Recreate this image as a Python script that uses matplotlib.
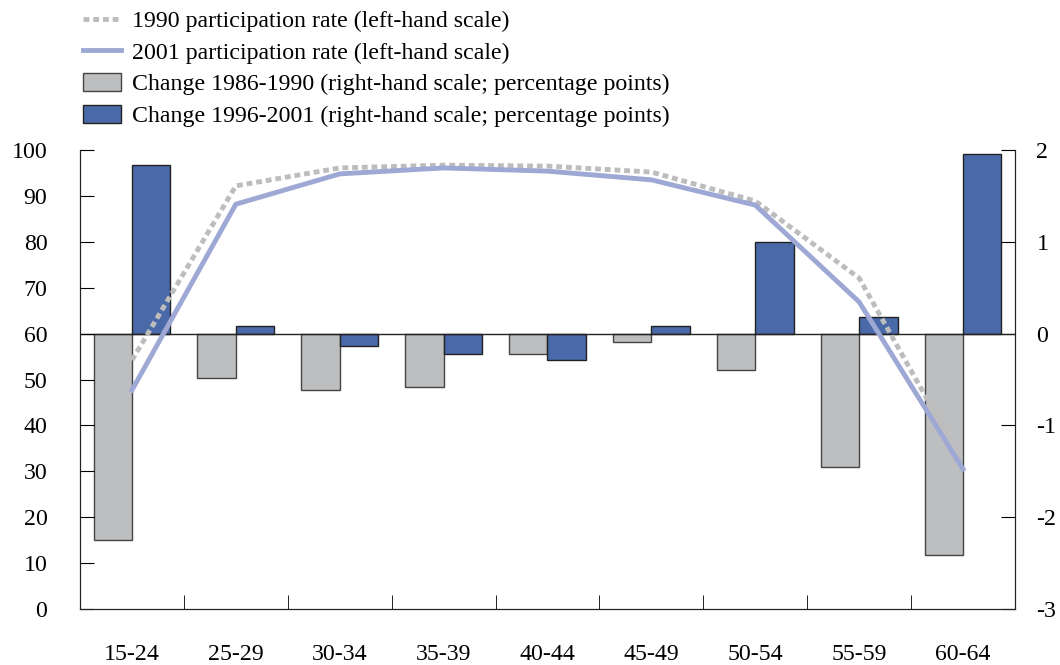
import numpy as np
import matplotlib.pyplot as plt
from matplotlib.ticker import FixedLocator

plt.rcParams['font.family'] = ['Liberation Serif', 'DejaVu Serif']
plt.rcParams['axes.unicode_minus'] = False

groups = ['15-24', '25-29', '30-34', '35-39', '40-44', '45-49', '50-54', '55-59', '60-64']
rate_1990 = [54.2, 92.2, 96.1, 96.7, 96.5, 95.2, 88.9, 72.1, 31.8]
rate_2001 = [47.7, 88.2, 94.8, 96.1, 95.4, 93.5, 88.0, 66.9, 30.5]
chg_86_90 = [-2.25, -0.48, -0.61, -0.58, -0.22, -0.09, -0.40, -1.45, -2.41]
chg_96_01 = [1.84, 0.08, -0.13, -0.22, -0.29, 0.08, 1.00, 0.18, 1.96]

x = np.arange(len(groups))
w = 0.37
fs = 17.2

fig = plt.figure(figsize=(10.6, 6.65), dpi=100)
ax = fig.add_axes([0.0755, 0.0842, 0.882, 0.6902])
ax2 = ax.twinx()

# bars on the right-hand scale
b1 = ax2.bar(x - w / 2, chg_86_90, w, color='#BDBEC0', edgecolor='#444444', linewidth=1.0,
             label='Change 1986-1990 (right-hand scale; percentage points)')
b2 = ax2.bar(x + w / 2, chg_96_01, w, color='#4A69A8', edgecolor='#222222', linewidth=1.0,
             label='Change 1996-2001 (right-hand scale; percentage points)')
ax2.axhline(0, color='#222222', linewidth=1.0)
ax2.set_ylim(-3, 2)
ax2.set_yticks([-3, -2, -1, 0, 1, 2])

# lines on the left-hand scale, drawn over the bars
ax.set_zorder(ax2.get_zorder() + 1)
ax.patch.set_visible(False)
l1, = ax.plot(x, rate_1990, color='#BDBDBD', linestyle=(0, (1.2, 0.8)), linewidth=3.5,
              label='1990 participation rate (left-hand scale)')
l2, = ax.plot(x, rate_2001, color='#9EA8D4', linewidth=3.5,
              label='2001 participation rate (left-hand scale)')
ax.set_ylim(0, 100)
ax.set_yticks(range(0, 101, 10))
ax.set_xlim(-0.5, len(groups) - 0.5)
ax.set_xticks(x)
ax.set_xticklabels(groups)
ax.xaxis.set_minor_locator(FixedLocator(np.arange(0.5, len(groups) - 1, 1.0)))

for a in (ax, ax2):
    a.spines['top'].set_visible(False)
    for s in a.spines.values():
        s.set_color('#222222')
ax.tick_params(axis='y', direction='in', length=10, labelsize=fs, pad=23.5)
ax2.tick_params(axis='y', direction='in', length=10, labelsize=fs, pad=15.5)
ax.tick_params(axis='x', which='major', length=0, labelsize=fs, pad=25)
ax.tick_params(axis='x', which='minor', direction='in', length=10)

fig.legend(handles=[l1, l2, b1, b2], loc='upper left', bbox_to_anchor=(0.0783, 0.985),
           frameon=False, fontsize=fs, handlelength=1.6, handleheight=0.8,
           handletextpad=0.45, labelspacing=0.38, borderpad=0, borderaxespad=0)

fig.savefig('out.png', dpi=100)
